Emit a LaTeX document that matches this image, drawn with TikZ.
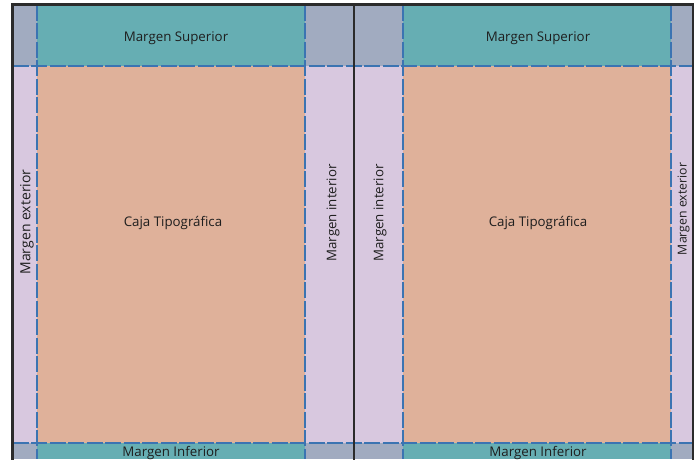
\documentclass[tikz,border=0pt]{standalone}
\usepackage{fontspec}
\setmainfont{Open Sans}
\definecolor{cornercol}{HTML}{A1ABC0}
\definecolor{tealcol}{HTML}{66AEB3}
\definecolor{salmoncol}{HTML}{DFB19A}
\definecolor{lavcol}{HTML}{D8C8DF}
\definecolor{dashcol}{HTML}{3B74B2}
\definecolor{bordercol}{HTML}{2B2B2B}
\definecolor{textcol}{HTML}{1E1E1E}
\begin{document}
\begin{tikzpicture}[x=1pt,y=-1pt,
  lbl/.style={text=textcol,inner sep=0pt,font=\fontsize{13.3}{15}\selectfont},
  guide/.style={draw=dashcol,line width=2pt,dash pattern=on 16pt off 2.5pt},
  frame/.style={draw=bordercol,line width=2.2pt}]
\useasboundingbox (0,0) rectangle (697,459);
% fills
\fill[cornercol] (12.5,4.5) rectangle (37,66);
\fill[cornercol] (305,4.5) rectangle (403,66);
\fill[cornercol] (671,4.5) rectangle (693,66);
\fill[cornercol] (12.5,443) rectangle (37,459);
\fill[cornercol] (305,443) rectangle (403,459);
\fill[cornercol] (671,443) rectangle (693,459);
\fill[tealcol] (37,4.5) rectangle (305,66);
\fill[tealcol] (403,4.5) rectangle (671,66);
\fill[tealcol] (37,443) rectangle (305,459);
\fill[tealcol] (403,443) rectangle (671,459);
\fill[lavcol] (12.5,66) rectangle (37,443);
\fill[lavcol] (305,66) rectangle (403,443);
\fill[lavcol] (671,66) rectangle (693,443);
\fill[salmoncol] (37,66) rectangle (305,443);
\fill[salmoncol] (403,66) rectangle (671,443);
% guides
\coordinate (v1t) at (37,4.5);   \coordinate (v1b) at (37,459);
\coordinate (v2t) at (305,4.5);  \coordinate (v2b) at (305,459);
\coordinate (v3t) at (403,4.5);  \coordinate (v3b) at (403,459);
\coordinate (v4t) at (671,4.5);  \coordinate (v4b) at (671,459);
\coordinate (h1l) at (12.5,66);  \coordinate (h1r) at (693,66);
\coordinate (h2l) at (12.5,443); \coordinate (h2r) at (693,443);
\draw[guide] (v1t) -- (v1b);
\draw[guide] (v2t) -- (v2b);
\draw[guide] (v3t) -- (v3b);
\draw[guide] (v4t) -- (v4b);
\draw[guide] (h1l) -- (h1r);
\draw[guide] (h2l) -- (h2r);
% frame
\coordinate (tl) at (12.5,460); \coordinate (tl2) at (12.5,4.5);
\coordinate (tr) at (693,4.5); \coordinate (br) at (693,460);
\coordinate (ct) at (354,4.5); \coordinate (cb) at (354,460);
\draw[frame] (tl) -- (tl2) -- (tr) -- (br);
\draw[frame] (ct) -- (cb);
% labels
\node[lbl] (ms1) at (176,38) {Margen Superior};
\node[lbl] (ms2) at (538,38) {Margen Superior};
\node[lbl] (ct1) at (173,223) {Caja Tipográfica};
\node[lbl] (ct2) at (538,223) {Caja Tipográfica};
\node[lbl] (mi1) at (171,453) {Margen Inferior};
\node[lbl] (mi2) at (538,453) {Margen Inferior};
\node[lbl,rotate=90,font=\fontsize{14}{16}\selectfont] (me1) at (27,222) {Margen exterior};
\node[lbl,rotate=90] (mn1) at (333,213) {Margen interior};
\node[lbl,rotate=90] (mn2) at (380,213) {Margen interior};
\node[lbl,rotate=90,font=\fontsize{12.3}{14}\selectfont] (me2) at (683.5,209) {Margen exterior};
\end{tikzpicture}
\end{document}
